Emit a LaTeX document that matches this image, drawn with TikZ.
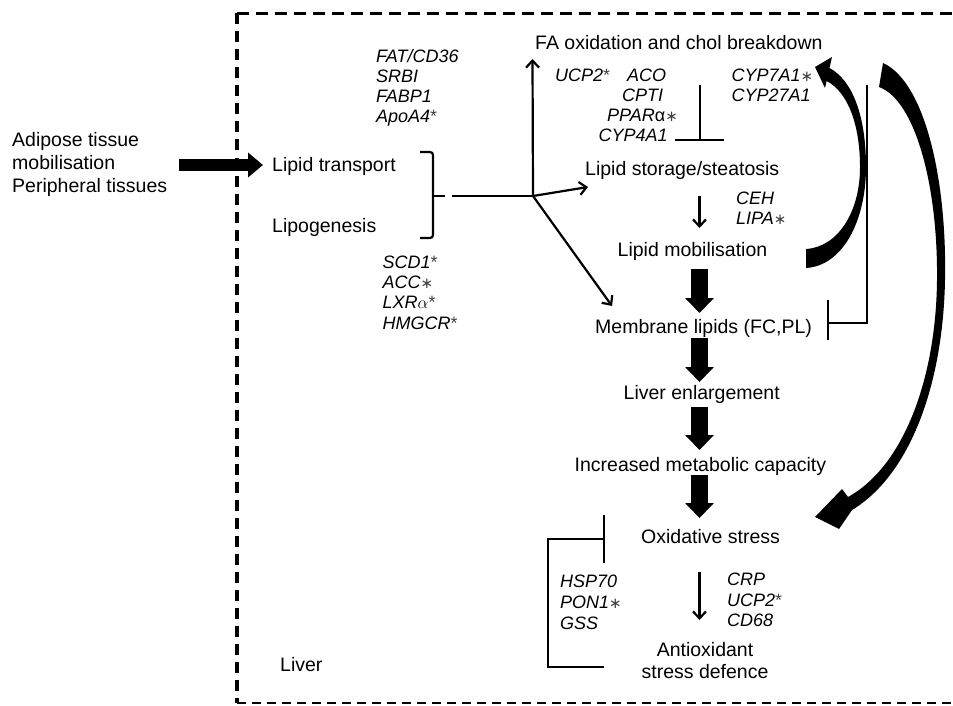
\documentclass[tikz,border=0pt]{standalone}
\usepackage{fontspec}
\setmainfont{Liberation Sans}
\newfontfamily\djv{DejaVu Sans}
\usetikzlibrary{arrows.meta}
\newcommand\regf{\fontsize{19.5}{23}\selectfont}
\newcommand\genf{\fontsize{18}{20.5}\selectfont\itshape}
\newcommand\hiast{{\upshape\color{black!75}*}}
\newcommand\loast{{\djv\upshape\fontsize{15}{15}\selectfont\color{black!75}∗}}
\tikzset{
  reg/.style={anchor=base west, inner sep=0pt, font=\regf},
  gene/.style={anchor=base west, inner sep=0pt, font=\genf},
  thinarr/.style={line width=2.2pt, -{Straight Barb[length=7pt,width=13pt]}},
  fatarr/.style={line width=17pt, -{Triangle[length=15pt,width=28pt]}},
  inh/.style={line width=2.4pt},
  plainln/.style={line width=2.2pt}
}
\begin{document}
\begin{tikzpicture}[x=1pt,y=-1pt]
\useasboundingbox (0,0) rectangle (953,706);
% dashed liver box
\draw[line width=3.5pt, dash pattern=on 12pt off 7pt] (237,13.5) -- (953,13.5);
\draw[line width=4pt, dash pattern=on 11pt off 7pt] (237,13.5) -- (237,703);
\draw[line width=2pt, dash pattern=on 9pt off 6pt] (237,702.5) -- (953,702.5);

% left texts
\node[reg] (adi1) at (12,146.5) {Adipose tissue};
\node[reg] (adi2) at (12,169.5) {mobilisation};
\node[reg] (adi3) at (12,192) {Peripheral tissues};
\node[reg] (lt) at (272,171.5) {Lipid transport};
\node[reg] (lg) at (272,232.5) {Lipogenesis};
\node[reg] (liver) at (280,671.5) {Liver};

% gene lists left
\node[gene] (g1) at (376,62.5) {FAT/CD36};
\node[gene] (g2) at (376,83) {SRBI};
\node[gene] (g3) at (376,103) {FABP1};
\node[gene] (g4) at (376,123) {ApoA4\hiast};
\node[gene] (g5) at (382.5,268) {SCD1\hiast};
\node[gene] (g6) at (382.5,288.5) {ACC\loast};
\node[gene] (g7) at (382.5,308.5) {LXR$\alpha$\hiast};
\node[gene] (g8) at (382.5,329) {HMGCR\hiast};

% main column
\node[reg] (fa) at (535,49.5) {FA oxidation and chol breakdown};
\node[gene] (ucp) at (555,81.5) {UCP2\hiast};
\node[gene] (aco) at (627,81.5) {ACO};
\node[gene] (cpt) at (622,101.5) {CPTI};
\node[gene] (ppar) at (607,121.5) {PPAR\textup{α}\loast};
\node[gene] (cyp4) at (598.5,141.5) {CYP4A1};
\node[gene] (cyp7) at (731.5,81.5) {CYP7A1\loast};
\node[gene] (cyp27) at (731.5,101.5) {CYP27A1};
\node[reg] (ls) at (585,175.5) {Lipid storage/steatosis};
\node[gene] (ceh) at (736,204) {CEH};
\node[gene] (lipa) at (736,224) {LIPA\loast};
\node[reg] (lm) at (617.5,256.5) {Lipid mobilisation};
\node[reg] (ml) at (595,333.5) {Membrane lipids (FC,PL)};
\node[reg] (le) at (623.5,399.5) {Liver enlargement};
\node[reg] (imc) at (574.5,471.5) {Increased metabolic capacity};
\node[reg] (os) at (641,543.5) {Oxidative stress};
\node[gene] (crp) at (727,585.5) {CRP};
\node[gene] (ucpb) at (727,606) {UCP2\hiast};
\node[gene] (cd68) at (727,626.5) {CD68};
\node[gene] (hsp) at (560,587.5) {HSP70};
\node[gene] (pon) at (560,608) {PON1\loast};
\node[gene] (gss) at (560,629) {GSS};
\node[reg, anchor=base] (ao1) at (705,656) {Antioxidant};
\node[reg, anchor=base] (ao2) at (705,678.5) {stress defence};

% big input arrow
\coordinate (inS) at (179,165);
\coordinate (inE) at (263,165);
\draw[line width=12pt, -{Triangle[length=15pt,width=24pt]}] (inS) -- (inE);

% bracket
\draw[plainln, rounded corners=3pt] (420,152) -- (433,152) -- (433,238) -- (420,238);
\draw[plainln] (433,196) -- (445,196);

% junction arrows
\coordinate (brk) at (452,196);
\coordinate (j) at (533,196);
\coordinate (faE) at (532.5,59);
\coordinate (lsE) at (588,187);
\coordinate (mlE) at (612,306);
\draw[plainln] (brk) -- (j);
\draw[thinarr] (j) -- (faE);
\draw[thinarr] (j) -- (lsE);
\draw[thinarr] (j) -- (mlE);

% thin down arrows
\coordinate (d1s) at (699.5,196);
\coordinate (d1e) at (699.5,228);
\draw[thinarr] (d1s) -- (d1e);
\coordinate (d2s) at (699.5,572);
\coordinate (d2e) at (699.5,620);
\draw[thinarr] (d2s) -- (d2e);

% fat arrows
\coordinate (f1s) at (699.5,269);  \coordinate (f1e) at (699.5,313);
\coordinate (f2s) at (699.5,338);  \coordinate (f2e) at (699.5,382);
\coordinate (f3s) at (699.5,407);  \coordinate (f3e) at (699.5,450);
\coordinate (f4s) at (699.5,475);  \coordinate (f4e) at (699.5,518);
\draw[fatarr] (f1s) -- (f1e);
\draw[fatarr] (f2s) -- (f2e);
\draw[fatarr] (f3s) -- (f3e);
\draw[fatarr] (f4s) -- (f4e);

% inhibition lines
\coordinate (i1a) at (700,85); \coordinate (i1b) at (700,140);
\draw[inh] (i1a) -- (i1b);
\draw[inh] (675,140) -- (724,140);
\coordinate (i2a) at (867,85); \coordinate (i2b) at (828,323);
\draw[inh] (i2a) |- (i2b);
\draw[inh] (828,300) -- (828,340);
\coordinate (i3a) at (604,667); \coordinate (i3b) at (604,539);
\draw[inh] (i3a) -- (548,667) -- (548,539) -- (i3b);
\draw[inh] (604,515) -- (604,563);

% curved fat arrow: lipid mobilisation -> FA oxidation
\fill (806,268) .. controls (842,266) and (866,222) .. (866,167)
  .. controls (866,115) and (852,80) .. (829.5,68)
  -- (832,57) -- (815,67) -- (825,88) -- (826.6,81)
  .. controls (848,92) and (860,125) .. (860,167)
  .. controls (860,212) and (838,247) .. (806,249) -- cycle;

% big curved arrow: -> oxidative stress
\fill (883,63) .. controls (925,82) and (947,180) .. (945,280)
  .. controls (943,385) and (910,475) .. (852,510)
  -- (839,529) -- (815,517) -- (842,489) -- (848,497)
  .. controls (904,466) and (936,378) .. (937,280)
  .. controls (938,185) and (915,100) .. (879,87) -- cycle;
\end{tikzpicture}
\end{document}
